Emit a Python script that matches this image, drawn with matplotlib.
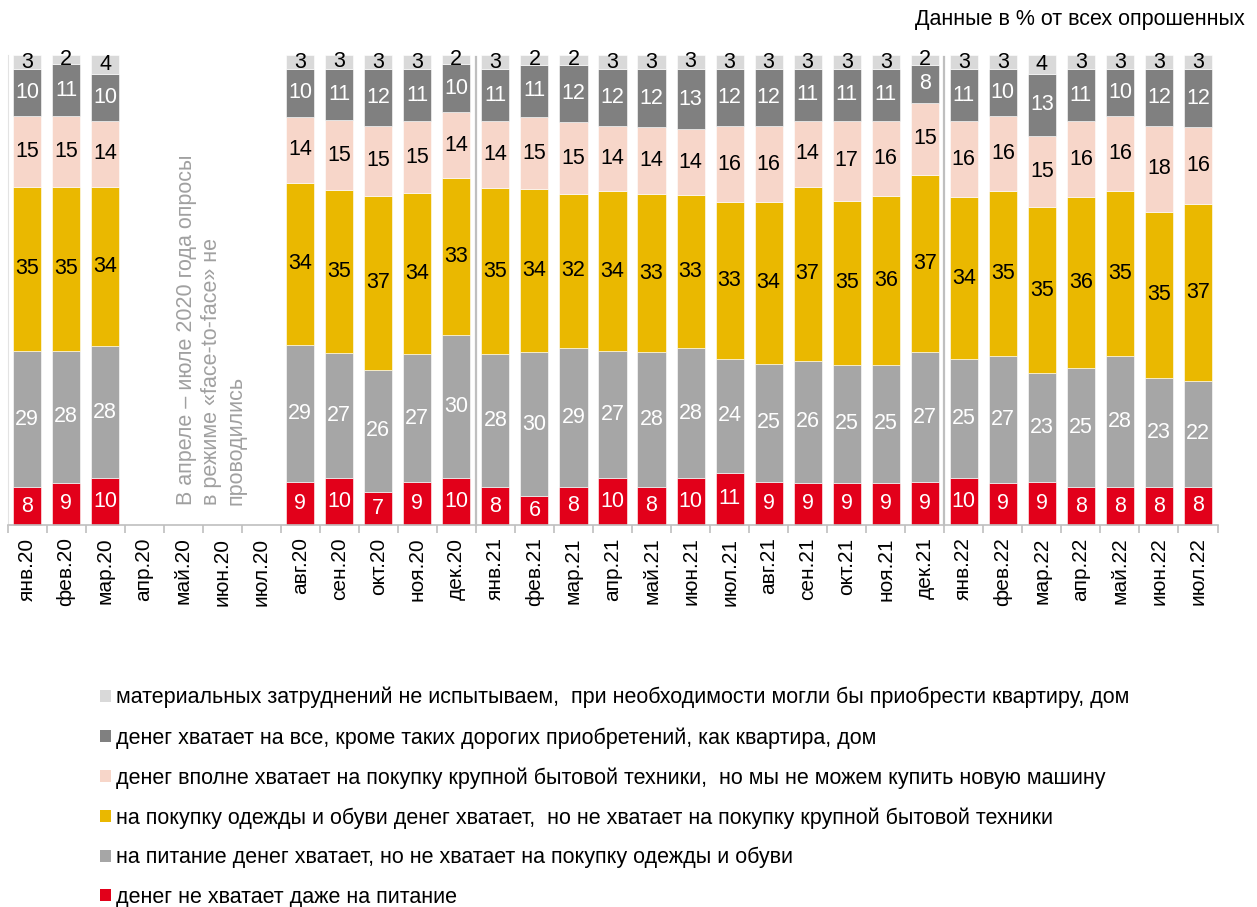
import numpy as np
import matplotlib
matplotlib.use("Agg")
import matplotlib.pyplot as plt
from matplotlib.patches import Patch

plt.rcParams['font.family'] = ['Liberation Sans', 'DejaVu Sans']

categories = ["янв.20", "фев.20", "мар.20", "апр.20", "май.20", "июн.20", "июл.20",
              "авг.20", "сен.20", "окт.20", "ноя.20", "дек.20",
              "янв.21", "фев.21", "мар.21", "апр.21", "май.21", "июн.21", "июл.21",
              "авг.21", "сен.21", "окт.21", "ноя.21", "дек.21",
              "янв.22", "фев.22", "мар.22", "апр.22", "май.22", "июн.22", "июл.22"]

n = np.nan
no_food = [8, 9, 10, n, n, n, n, 9, 10, 7, 9, 10, 8, 6, 8, 10, 8, 10, 11, 9, 9, 9, 9, 9, 10, 9, 9, 8, 8, 8, 8]
food_only = [29, 28, 28, n, n, n, n, 29, 27, 26, 27, 30, 28, 30, 29, 27, 28, 28, 24, 25, 26, 25, 25, 27, 25, 27, 23, 25, 28, 23, 22]
clothes = [35, 35, 34, n, n, n, n, 34, 35, 37, 34, 33, 35, 34, 32, 34, 33, 33, 33, 34, 37, 35, 36, 37, 34, 35, 35, 36, 35, 35, 37]
appliances = [15, 15, 14, n, n, n, n, 14, 15, 15, 15, 14, 14, 15, 15, 14, 14, 14, 16, 16, 14, 17, 16, 15, 16, 16, 15, 16, 16, 18, 16]
all_but_flat = [10, 11, 10, n, n, n, n, 10, 11, 12, 11, 10, 11, 11, 12, 12, 12, 13, 12, 12, 11, 11, 11, 8, 11, 10, 13, 11, 10, 12, 12]
no_problems = [3, 2, 4, n, n, n, n, 3, 3, 3, 3, 2, 3, 2, 2, 3, 3, 3, 3, 3, 3, 3, 3, 2, 3, 3, 4, 3, 3, 3, 3]

series_labels = [
    "денег не хватает даже на питание",
    "на питание денег хватает, но не хватает на покупку одежды и обуви",
    "на покупку одежды и обуви денег хватает,  но не хватает на покупку крупной бытовой техники",
    "денег вполне хватает на покупку крупной бытовой техники,  но мы не можем купить новую машину",
    "денег хватает на все, кроме таких дорогих приобретений, как квартира, дом",
    "материальных затруднений не испытываем,  при необходимости могли бы приобрести квартиру, дом",
]
series = [no_food, food_only, clothes, appliances, all_but_flat, no_problems]
colors = ["#E2001A", "#A6A6A6", "#EAB800", "#F7D6C9", "#808080", "#D9D9D9"]
text_colors = ["white", "white", "black", "black", "white", "black"]

note = "В апреле – июле 2020 года опросы\nв режиме «face-to-face» не\nпроводились"
subtitle = "Данные в % от всех опрошенных"

W, H = 1257, 907
fig = plt.figure(figsize=(W / 100, H / 100), dpi=100)
ax = fig.add_axes([7.5 / W, (H - 525) / H, (1217.5 - 7.5) / W, 470 / H])

data = np.array(series, dtype=float)
totals = np.nansum(data, axis=0)
totals[totals == 0] = np.nan
shares = data / totals * 100  # 100% stacked bars

x = np.arange(len(categories))
bottom = np.zeros(len(categories))
handles = []
for v, sh, col, tcol, lab in zip(data, shares, colors, text_colors, series_labels):
    ax.bar(x, sh, width=0.72, bottom=bottom, color=col, edgecolor="white",
           linewidth=0.4, clip_on=False, label=lab)
    for xi, vi, hi, bi in zip(x, v, sh, bottom):
        if not np.isnan(vi):
            ax.text(xi, bi + hi / 2, f"{int(vi)}", ha="center", va="center",
                    color=tcol, fontsize=15.5, clip_on=False)
    bottom = bottom + np.nan_to_num(sh)
    handles.append(Patch(facecolor=col, edgecolor="none", label=lab))

ax.set_xlim(-0.5, len(categories) - 0.5)
ax.set_ylim(0, 100)
ax.set_yticks([])
for s in ["top", "right"]:
    ax.spines[s].set_visible(False)
ax.spines["left"].set_color("#E3E3E3")
ax.spines["bottom"].set_color("#BFBFBF")
ax.spines["bottom"].set_linewidth(1.2)

ax.set_xticks(x)
ax.set_xticklabels(categories, rotation=90, fontsize=15)
ax.tick_params(axis="x", which="major", length=0, pad=9)
ax.set_xticks(np.arange(len(categories) + 1) - 0.5, minor=True)
ax.tick_params(axis="x", which="minor", length=6, color="#BFBFBF", width=1.2)

# separators between years
for sx in [11.5, 23.5]:
    ax.plot([sx, sx], [0, 99.5], color="#BFBFBF", linewidth=1.6, clip_on=False)

# note about missing months
ax.text(4.72, 4.3, note, rotation=90, ha="center", va="bottom", multialignment="left",
        color="#A0A0A0", fontsize=15.5, linespacing=1.24)

fig.text(1245 / W, 1 - 20 / H, subtitle, ha="right", va="center", fontsize=15.5)

leg = fig.legend(handles=handles[::-1], loc="upper left",
                 bbox_to_anchor=(100 / W, 1 - 687 / H), frameon=False,
                 fontsize=15.5, handlelength=0.5, handleheight=0.5,
                 handletextpad=0.25, labelspacing=0.86, borderaxespad=0,
                 borderpad=0)

fig.savefig("out.png", dpi=100)
